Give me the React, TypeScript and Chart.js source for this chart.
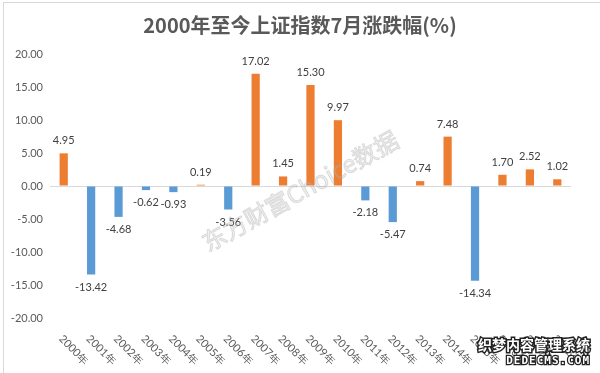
import React, { useEffect, useRef } from "react";
import { Chart, registerables } from "chart.js";

Chart.register(...registerables);

const TITLE = "2000年至今上证指数7月涨跌幅(%)";
const YEARS = ["2000年", "2001年", "2002年", "2003年", "2004年", "2005年", "2006年", "2007年", "2008年", "2009年", "2010年", "2011年", "2012年", "2013年", "2014年", "2015年", "2016年", "2017年", "2018年"];
const CHANGES = [4.95, -13.42, -4.68, -0.62, -0.93, 0.19, -3.56, 17.02, 1.45, 15.3, 9.97, -2.18, -5.47, 0.74, 7.48, -14.34, 1.7, 2.52, 1.02];
const Y_MIN = -20;
const Y_MAX = 20;
const Y_STEP = 5;
const UP_COLOR = "#ED7D31";
const DOWN_COLOR = "#5B9BD5";
const WATERMARK = "东方财富Choice数据";
const CORNER_MARK_1 = "织梦内容管理系统";
const CORNER_MARK_2 = "DEDECMS.COM";

const decorPlugin = {
  id: "decor",
  beforeDraw(chart: any) {
    const ctx = chart.ctx;
    ctx.save();
    ctx.fillStyle = "#ffffff";
    ctx.fillRect(0, 0, chart.width, chart.height);
    ctx.strokeStyle = "#d9d9d9";
    ctx.lineWidth = 1;
    ctx.beginPath();
    ctx.moveTo(3.5, 2);
    ctx.lineTo(3.5, chart.height);
    ctx.moveTo(3, 2.5);
    ctx.lineTo(chart.width, 2.5);
    ctx.stroke();
    ctx.restore();
  },
  afterDatasetsDraw(chart: any) {
    const ctx = chart.ctx;
    const meta = chart.getDatasetMeta(0);
    const xs = chart.scales.x;
    const area = chart.chartArea;
    ctx.save();
    // data labels
    ctx.font = "11px Lato, 'Open Sans', sans-serif";
    ctx.fillStyle = "#404040";
    ctx.textAlign = "center";
    meta.data.forEach((bar: any, i: number) => {
      const v = CHANGES[i];
      const txt = v.toFixed(2);
      if (v >= 0) {
        ctx.textBaseline = "bottom";
        ctx.fillText(txt, bar.x, bar.y - 7);
      } else {
        ctx.textBaseline = "top";
        ctx.fillText(txt, bar.x, bar.y + 7);
      }
    });
    // x labels rotated
    ctx.fillStyle = "#595959";
    ctx.font = "11px Lato, 'Open Sans', sans-serif";
    ctx.textAlign = "left";
    ctx.textBaseline = "middle";
    YEARS.forEach((lab, i) => {
      const x = xs.getPixelForValue(i);
      ctx.save();
      ctx.translate(x - 3, area.bottom + 19);
      ctx.rotate(Math.PI / 4);
      ctx.fillText(lab, 0, 0);
      ctx.restore();
    });
    // title
    ctx.fillStyle = "#595959";
    ctx.font = "bold 20px 'Noto Sans CJK SC', sans-serif";
    ctx.textAlign = "center";
    ctx.textBaseline = "middle";
    ctx.fillText(TITLE, 300, 25);
    // diagonal watermark
    ctx.save();
    ctx.translate(300, 191);
    ctx.rotate((-29 * Math.PI) / 180);
    ctx.font = "24px 'Noto Sans CJK SC', sans-serif";
    ctx.textAlign = "center";
    ctx.textBaseline = "middle";
    ctx.strokeStyle = "rgba(160,160,160,0.35)";
    ctx.lineWidth = 1;
    ctx.fillStyle = "rgba(200,200,200,0.22)";
    ctx.fillText(WATERMARK, 0, 0);
    ctx.strokeText(WATERMARK, 0, 0);
    ctx.restore();
    // corner watermark
    ctx.textAlign = "right";
    ctx.textBaseline = "middle";
    ctx.font = "bold 14px 'Noto Sans CJK SC', sans-serif";
    ctx.lineWidth = 3;
    ctx.strokeStyle = "#222222";
    ctx.fillStyle = "#ffffff";
    ctx.strokeText(CORNER_MARK_1, 590, 345);
    ctx.fillText(CORNER_MARK_1, 590, 345);
    ctx.font = "bold 11px 'DejaVu Sans Mono', monospace";
    (ctx as any).letterSpacing = "1px";
    ctx.lineWidth = 2.5;
    ctx.strokeText(CORNER_MARK_2, 590, 361);
    ctx.fillText(CORNER_MARK_2, 590, 361);
    ctx.restore();
  },
};

export default function App() {
  const ref = useRef<HTMLCanvasElement | null>(null);
  useEffect(() => {
    if (!ref.current) return;
    const chart = new Chart(ref.current, {
      type: "bar",
      data: {
        labels: YEARS,
        datasets: [
          {
            data: CHANGES,
            backgroundColor: CHANGES.map((v) => (v >= 0 ? UP_COLOR : DOWN_COLOR)),
            barPercentage: 0.3,
            categoryPercentage: 1,
          },
        ],
      },
      options: {
        animation: false,
        responsive: false,
        maintainAspectRatio: false,
        layout: { padding: { left: 0, right: 29, top: 54, bottom: 55 } },
        plugins: { legend: { display: false }, tooltip: { enabled: false }, title: { display: false } },
        scales: {
          x: { display: false },
          y: {
            min: Y_MIN,
            max: Y_MAX,
            afterFit(scale: any) {
              scale.width = 50;
            },
            ticks: {
              stepSize: Y_STEP,
              padding: 7,
              color: "#595959",
              font: { family: "Lato, 'Open Sans', sans-serif", size: 11 },
              callback: (v: any) => Number(v).toFixed(2),
            },
            border: { display: false },
            grid: {
              drawTicks: false,
              tickLength: 0,
              color: (c: any) => (c.tick && c.tick.value === 0 ? "#d9d9d9" : "rgba(0,0,0,0)"),
            },
          },
        },
      },
      plugins: [decorPlugin],
    });
    return () => chart.destroy();
  }, []);
  return (
    <div style={{ position: "fixed", left: 0, top: 0, width: 600, height: 373 }}>
      <canvas ref={ref} width={600} height={373} style={{ width: 600, height: 373 }} />
    </div>
  );
}
